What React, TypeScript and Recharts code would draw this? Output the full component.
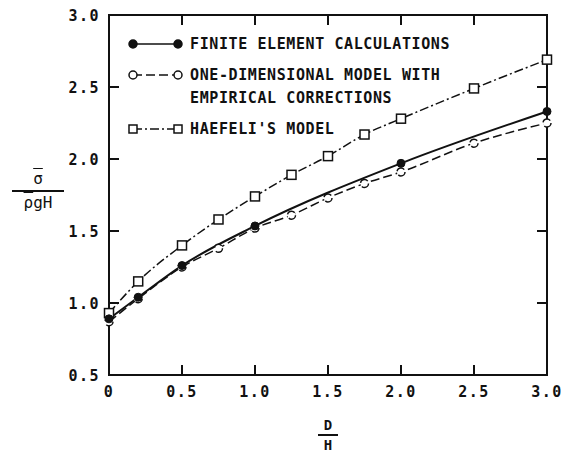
import React from 'react';
import { LineChart, Line, XAxis, YAxis, ReferenceArea, ReferenceLine } from 'recharts';

const xTicks = [0, 0.5, 1.0, 1.5, 2.0, 2.5, 3.0];
const yTicks = [0.5, 1.0, 1.5, 2.0, 2.5, 3.0];

const feD = [0, 0.2, 0.5, 1.0, 2.0, 3.0];
const feVal = [0.89, 1.04, 1.26, 1.535, 1.97, 2.33];

const oneD = [0, 0.2, 0.5, 0.75, 1.0, 1.25, 1.5, 1.75, 2.0, 2.5, 3.0];
const oneVal = [0.87, 1.03, 1.25, 1.38, 1.52, 1.61, 1.73, 1.83, 1.91, 2.11, 2.25];

const haeD = [0, 0.2, 0.5, 0.75, 1.0, 1.25, 1.5, 1.75, 2.0, 2.5, 3.0];
const haeVal = [0.93, 1.15, 1.4, 1.58, 1.74, 1.89, 2.02, 2.17, 2.28, 2.49, 2.69];

const feData = feD.map((d, i) => ({ d, v: feVal[i] }));
const oneData = oneD.map((d, i) => ({ d, v: oneVal[i] }));
const haeData = haeD.map((d, i) => ({ d, v: haeVal[i] }));

const INK = '#111';
const FONT = '"DejaVu Sans Mono", monospace';
const TICK = 10;

const fmt = (v: number) => (v === 0 ? '0' : v.toFixed(1));

const BottomLabel = (props: any) => (
  <text x={props.x} y={props.y + 22} textAnchor="middle" fontFamily={FONT} fontWeight="bold" fontSize={15} letterSpacing={1.5} fill={INK}>
    {fmt(props.payload.value)}
  </text>
);

const LeftLabel = (props: any) => (
  <text x={props.x - 9} y={props.y + 6} textAnchor="end" fontFamily={FONT} fontWeight="bold" fontSize={15} letterSpacing={1.5} fill={INK}>
    {fmt(props.payload.value)}
  </text>
);

// short inward marks at both ends of a full-span reference line
const VTicks = (p: any) => (
  <g>
    <line x1={p.x1} y1={p.y1} x2={p.x1} y2={p.y1 - TICK} stroke={INK} strokeWidth={2} />
    <line x1={p.x2} y1={p.y2} x2={p.x2} y2={p.y2 + TICK} stroke={INK} strokeWidth={2} />
  </g>
);

const HTicks = (p: any) => (
  <g>
    <line x1={p.x1} y1={p.y1} x2={p.x1 + TICK} y2={p.y1} stroke={INK} strokeWidth={2} />
    <line x1={p.x2} y1={p.y2} x2={p.x2 - TICK} y2={p.y2} stroke={INK} strokeWidth={2} />
  </g>
);

const Square = (props: any) => {
  const { cx, cy } = props;
  if (cx == null || cy == null) return null;
  return <rect x={cx - 4.5} y={cy - 4.5} width={9} height={9} fill="#fff" stroke={INK} strokeWidth={1.5} />;
};

const legendRows = [
  { label: ['FINITE ELEMENT CALCULATIONS'], dash: '', marker: 'fill', top: 36 },
  { label: ['ONE-DIMENSIONAL MODEL WITH', 'EMPIRICAL CORRECTIONS'], dash: '9 4', marker: 'open', top: 67 },
  { label: ["HAEFELI'S MODEL"], dash: '9 3 2 3', marker: 'square', top: 121 },
];

const LegendBox = () => (
  <div style={{ position: 'absolute', left: 128, top: 0, width: 360 }}>
    {legendRows.map((r) => (
      <div key={r.label[0]} style={{ position: 'absolute', left: 0, top: r.top }}>
        <svg width={56} height={16} style={{ position: 'absolute', left: 0, top: 0 }}>
          <line x1={5} y1={8} x2={50} y2={8} stroke={INK} strokeWidth={1.5} strokeDasharray={r.dash || undefined} />
          {r.marker === 'square' ? (
            <>
              <rect x={1} y={4} width={8} height={8} fill="#fff" stroke={INK} strokeWidth={1.5} />
              <rect x={46} y={4} width={8} height={8} fill="#fff" stroke={INK} strokeWidth={1.5} />
            </>
          ) : (
            <>
              <circle cx={5} cy={8} r={4} fill={r.marker === 'fill' ? INK : '#fff'} stroke={INK} strokeWidth={1.5} />
              <circle cx={50} cy={8} r={4} fill={r.marker === 'fill' ? INK : '#fff'} stroke={INK} strokeWidth={1.5} />
            </>
          )}
        </svg>
        <div
          style={{
            position: 'absolute',
            left: 62,
            top: -3,
            fontFamily: FONT,
            fontWeight: 'bold',
            fontSize: 15,
            letterSpacing: 0.6,
            lineHeight: '23px',
            color: INK,
            whiteSpace: 'nowrap',
          }}
        >
          {r.label.map((l) => (
            <div key={l}>{l}</div>
          ))}
        </div>
      </div>
    ))}
  </div>
);

export default function App() {
  return (
    <div style={{ position: 'absolute', left: 0, top: 0, width: 578, height: 458, background: '#fff' }}>
      <LineChart width={578} height={458} margin={{ top: 15, right: 31, bottom: 0, left: 0 }}>
        <XAxis
          xAxisId="b"
          type="number"
          dataKey="d"
          domain={[0, 3]}
          ticks={xTicks}
          height={83}
          tickSize={0}
          tickMargin={0}
          tickLine={false}
          axisLine={false}
          tick={<BottomLabel />}
        />
        <YAxis
          yAxisId="l"
          type="number"
          domain={[0.5, 3]}
          ticks={yTicks}
          width={109}
          tickSize={0}
          tickMargin={0}
          tickLine={false}
          axisLine={false}
          tick={<LeftLabel />}
        />
        {xTicks.slice(1, -1).map((t) => (
          <ReferenceLine key={`x${t}`} xAxisId="b" yAxisId="l" x={t} stroke={INK} shape={VTicks} />
        ))}
        {yTicks.slice(1, -1).map((t) => (
          <ReferenceLine key={`y${t}`} xAxisId="b" yAxisId="l" y={t} stroke={INK} shape={HTicks} />
        ))}
        <ReferenceArea
          xAxisId="b"
          yAxisId="l"
          x1={0}
          x2={3}
          y1={0.5}
          y2={3}
          fill="none"
          fillOpacity={0}
          stroke={INK}
          strokeWidth={2}
          strokeOpacity={1}
          ifOverflow="visible"
        />
        <Line
          xAxisId="b"
          yAxisId="l"
          data={haeData}
          dataKey="v"
          type="monotone"
          stroke={INK}
          strokeWidth={1.5}
          strokeDasharray="9 3 2 3"
          dot={<Square />}
          isAnimationActive={false}
        />
        <Line
          xAxisId="b"
          yAxisId="l"
          data={oneData}
          dataKey="v"
          type="monotone"
          stroke={INK}
          strokeWidth={1.5}
          strokeDasharray="9 4"
          dot={{ r: 4, fill: '#fff', stroke: INK, strokeWidth: 1.5 }}
          isAnimationActive={false}
        />
        <Line
          xAxisId="b"
          yAxisId="l"
          data={feData}
          dataKey="v"
          type="monotone"
          stroke={INK}
          strokeWidth={2}
          dot={{ r: 4, fill: INK, stroke: INK, strokeWidth: 1 }}
          isAnimationActive={false}
        />
      </LineChart>
      <LegendBox />
      <div style={{ position: 'absolute', left: 12, top: 167, width: 52, textAlign: 'center', fontFamily: FONT, fontSize: 16, color: INK }}>
        <div style={{ lineHeight: '23px' }}>
          <span style={{ textDecoration: 'overline' }}>σ</span>
        </div>
        <div style={{ borderTop: `2px solid ${INK}`, lineHeight: '22px' }}>
          <span style={{ textDecoration: 'overline' }}>ρ</span>gH
        </div>
      </div>
      <div style={{ position: 'absolute', left: 318, top: 416, width: 20, textAlign: 'center', fontFamily: FONT, fontSize: 14, fontWeight: 'bold', color: INK }}>
        <div style={{ lineHeight: '18px' }}>D</div>
        <div style={{ borderTop: `2px solid ${INK}`, lineHeight: '18px' }}>H</div>
      </div>
    </div>
  );
}
